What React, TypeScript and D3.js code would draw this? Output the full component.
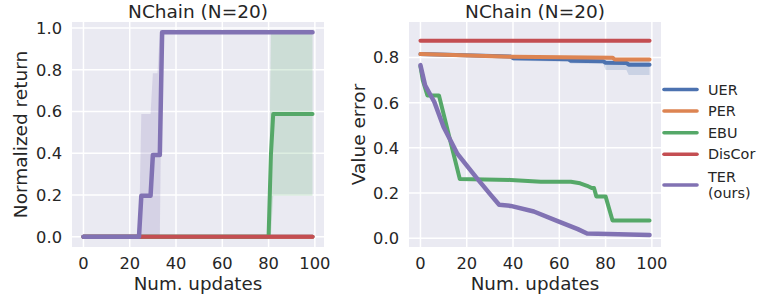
import React from 'react';
import * as d3 from 'd3';

// colors (seaborn "deep")
const COLORS: Record<string, string> = {
  UER: '#4C72B0',
  PER: '#DD8452',
  EBU: '#55A868',
  DisCor: '#C44E52',
  TER: '#8172B3',
};
const METHODS = ['UER', 'PER', 'EBU', 'DisCor', 'TER'];
const LEGEND_LABELS = ['UER', 'PER', 'EBU', 'DisCor', 'TER\n(ours)'];

const xTicks = [0, 20, 40, 60, 80, 100];
const retTicks = [0, 0.2, 0.4, 0.6, 0.8, 1.0];
const errTicks = [0, 0.2, 0.4, 0.6, 0.8];

// ---- left panel: normalized return ----
const retUER_x = [0, 99];
const retUER_y = [0, 0];
const retPER_x = [0, 99];
const retPER_y = [0, 0];
const retEBU_x = [0, 80, 81, 82, 99];
const retEBU_y = [0, 0, 0.39, 0.588, 0.588];
const retDisCor_x = [0, 99];
const retDisCor_y = [0, 0];
const retTER_x = [0, 24, 25, 29, 30, 33, 34, 99];
const retTER_y = [0, 0, 0.196, 0.196, 0.392, 0.392, 0.98, 0.98];

const retEBUband_x = [80, 81, 82, 99];
const retEBUband_lo = [0, 0, 0.196, 0.196];
const retEBUband_hi = [0, 0.98, 0.98, 0.98];
const retTERband_x = [24, 25, 29, 30, 32, 33, 34, 99];
const retTERband_lo = [0, 0, 0, 0, 0, 0, 0.98, 0.98];
const retTERband_hi = [0, 0.588, 0.588, 0.784, 0.784, 0.98, 0.98, 0.98];

// ---- right panel: value error ----
const errUER_x = [0, 39, 40, 64, 65, 79, 80, 89, 90, 99];
const errUER_y = [0.815, 0.804, 0.797, 0.792, 0.785, 0.783, 0.777, 0.776, 0.768, 0.768];
const errUERband_lo = [0.813, 0.802, 0.785, 0.781, 0.773, 0.772, 0.744, 0.744, 0.722, 0.722];
const errUERband_hi = [0.817, 0.806, 0.806, 0.8, 0.798, 0.797, 0.796, 0.794, 0.792, 0.79];
const errPER_x = [0, 40, 83, 84, 99];
const errPER_y = [0.815, 0.803, 0.799, 0.791, 0.791];
const errEBU_x = [0, 1, 3, 8, 17, 39, 52, 65, 69, 72, 74, 75, 76, 80, 83, 99];
const errEBU_y = [0.76, 0.7, 0.632, 0.632, 0.262, 0.258, 0.25, 0.25, 0.243, 0.232, 0.222, 0.222, 0.185, 0.185, 0.078, 0.078];
const errDisCor_x = [0, 99];
const errDisCor_y = [0.874, 0.874];
const errTER_x = [0, 2, 6, 10, 16, 24, 30, 34, 39, 49, 59, 68, 72, 81, 99];
const errTER_y = [0.766, 0.677, 0.603, 0.492, 0.373, 0.27, 0.196, 0.148, 0.143, 0.118, 0.077, 0.04, 0.021, 0.018, 0.014];

const TEXT = '#262626';
const BG = '#EAEAF2';
const FONT = 'DejaVu Sans, sans-serif';

type Series = { name: string; x: number[]; y: number[] };
type Band = { name: string; x: number[]; lo: number[]; hi: number[] };

const zip = (xs: number[], ys: number[]) => xs.map((x, i) => [x, ys[i]] as [number, number]);

interface PanelProps {
  left: number;
  yDomain: [number, number];
  yTicks: number[];
  yLabel: string;
  yLabelX: number;
  series: Series[];
  bands: Band[];
}

const Panel: React.FC<PanelProps> = ({ left, yDomain, yTicks, yLabel, yLabelX, series, bands }) => {
  const top = 22, bottom = 247, w = 252;
  const x = d3.scaleLinear().domain([-4.95, 103.95]).range([left, left + w]);
  const y = d3.scaleLinear().domain(yDomain).range([bottom, top]);
  const line = d3.line<[number, number]>().x(d => x(d[0])).y(d => y(d[1]));
  return (
    <g>
      <rect x={left} y={top} width={w} height={bottom - top} fill={BG} />
      {xTicks.map(t => (
        <line key={'gx' + t} x1={x(t)} x2={x(t)} y1={top} y2={bottom} stroke="#fff" strokeWidth={1.5} />
      ))}
      {yTicks.map(t => (
        <line key={'gy' + t} x1={left} x2={left + w} y1={y(t)} y2={y(t)} stroke="#fff" strokeWidth={1.5} />
      ))}
      {bands.map(b => {
        const a = d3.area<number>()
          .x((_, i) => x(b.x[i]))
          .y0((_, i) => y(b.lo[i]))
          .y1((_, i) => y(b.hi[i]));
        return <path key={'b' + b.name} d={a(b.x) || ''} fill={COLORS[b.name]} opacity={0.2} />;
      })}
      {series.map(s => (
        <path key={s.name} d={line(zip(s.x, s.y)) || ''} fill="none" stroke={COLORS[s.name]}
          strokeWidth={s.name === 'TER' ? 4.5 : 4} strokeLinecap="round" strokeLinejoin="round" />
      ))}
      {xTicks.map(t => (
        <text key={'tx' + t} x={x(t)} y={268.5} textAnchor="middle" fontSize={16.3} fill={TEXT}>{t}</text>
      ))}
      {yTicks.map(t => (
        <text key={'ty' + t} x={left - 10} y={y(t)} dy="0.36em" textAnchor="end" fontSize={16.3} fill={TEXT}>
          {t.toFixed(1)}
        </text>
      ))}
      <text x={left + w / 2} y={18} textAnchor="middle" fontSize={18.5} fill={TEXT}>NChain (N=20)</text>
      <text x={left + w / 2} y={289.5} textAnchor="middle" fontSize={18.3} fill={TEXT}>Num. updates</text>
      <text transform={`translate(${yLabelX},${(top + bottom) / 2}) rotate(-90)`} textAnchor="middle"
        fontSize={18.5} fill={TEXT}>{yLabel}</text>
    </g>
  );
};

const App: React.FC = () => {
  const retSeries: Series[] = [
    { name: 'UER', x: retUER_x, y: retUER_y },
    { name: 'PER', x: retPER_x, y: retPER_y },
    { name: 'EBU', x: retEBU_x, y: retEBU_y },
    { name: 'DisCor', x: retDisCor_x, y: retDisCor_y },
    { name: 'TER', x: retTER_x, y: retTER_y },
  ];
  const retBands: Band[] = [
    { name: 'EBU', x: retEBUband_x, lo: retEBUband_lo, hi: retEBUband_hi },
    { name: 'TER', x: retTERband_x, lo: retTERband_lo, hi: retTERband_hi },
  ];
  const errSeries: Series[] = [
    { name: 'UER', x: errUER_x, y: errUER_y },
    { name: 'PER', x: errPER_x, y: errPER_y },
    { name: 'EBU', x: errEBU_x, y: errEBU_y },
    { name: 'DisCor', x: errDisCor_x, y: errDisCor_y },
    { name: 'TER', x: errTER_x, y: errTER_y },
  ];
  const errBands: Band[] = [
    { name: 'UER', x: errUER_x, lo: errUERband_lo, hi: errUERband_hi },
  ];
  const legendY = [89.5, 111, 132.7, 154.3, 185];

  return (
    <svg width={761} height={302} style={{ position: 'absolute', left: 0, top: 0, fontFamily: FONT }}>
      <rect width={761} height={302} fill="#fff" />
      <Panel left={72} yDomain={[-0.049, 1.029]} yTicks={retTicks} yLabel="Normalized return" yLabelX={27}
        series={retSeries} bands={retBands} />
      <Panel left={409} yDomain={[-0.039, 0.957]} yTicks={errTicks} yLabel="Value error" yLabelX={365}
        series={errSeries} bands={errBands} />
      {METHODS.map((m, i) => {
        const lines = LEGEND_LABELS[i].split('\n');
        return (
          <g key={m}>
            <line x1={664} x2={697} y1={legendY[i]} y2={legendY[i]} stroke={COLORS[m]} strokeWidth={3.6}
              strokeLinecap="round" />
            {lines.map((l, j) => (
              <text key={j} x={708} y={legendY[i] + (j - (lines.length - 1) / 2) * 16.5} dy="0.36em"
                fontSize={14.4} fill={TEXT}>{l}</text>
            ))}
          </g>
        );
      })}
    </svg>
  );
};

export default App;
